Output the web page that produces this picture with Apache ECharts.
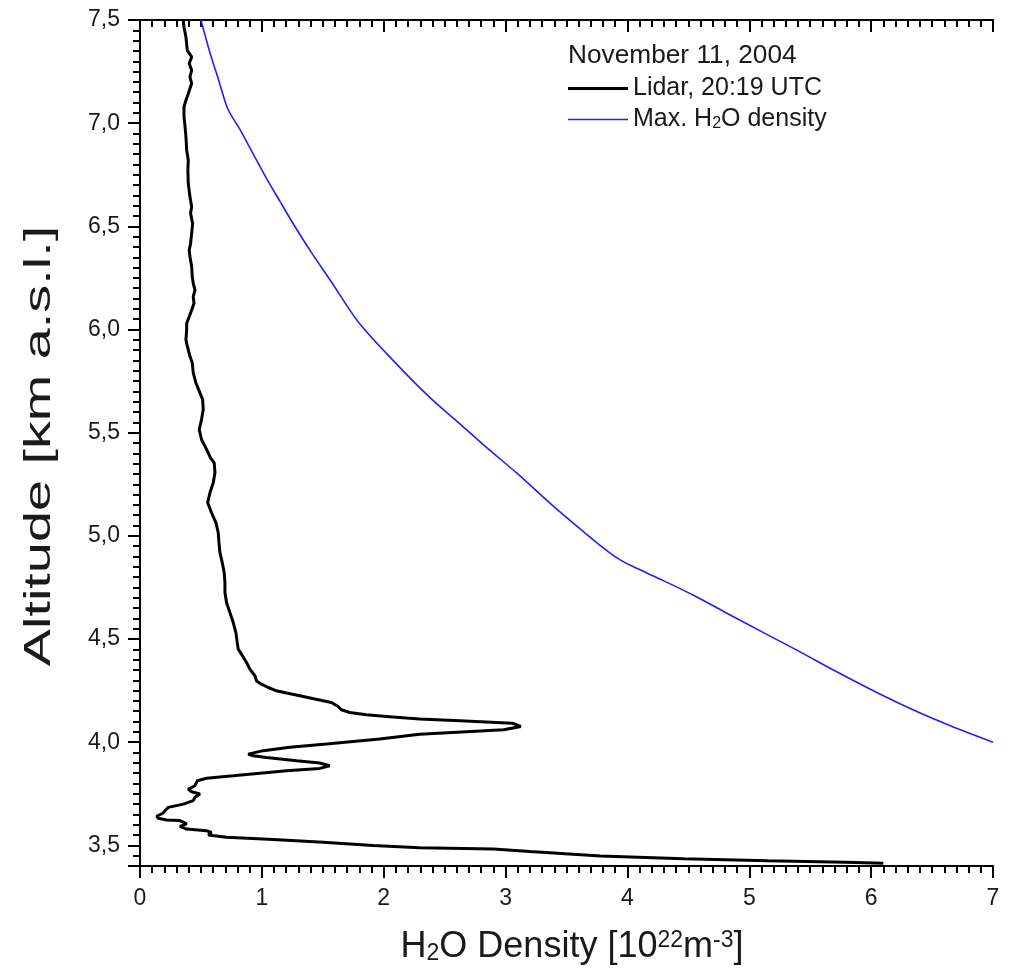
<!DOCTYPE html>
<html>
<head>
<meta charset="utf-8">
<script src="https://cdn.jsdelivr.net/npm/echarts@6/dist/echarts.min.js"></script>
<style>
html,body{margin:0;padding:0;background:#fff;}
#chart{width:1014px;height:976px;}
</style>
</head>
<body>
<div id="chart"></div>
<script>
// ---- data ----
const lidarName = 'Lidar, 20:19 UTC';
const maxName = 'Max. H2O density';
const legendTitle = 'November 11, 2004';
const xTicks = [0, 1, 2, 3, 4, 5, 6, 7];
const yTicks = [3.5, 4.0, 4.5, 5.0, 5.5, 6.0, 6.5, 7.0, 7.5];

// Lidar profile: H2O density [1e22 m^-3] vs altitude [km a.s.l.]
const lidarDensity = [
  0.355,0.361,0.377,0.388,0.424,0.404,0.424,0.410,0.424,0.410,0.396,0.377,0.361,0.361,0.370,0.377,0.383,0.396,0.393,0.396,
  0.410,0.424,0.415,0.432,0.424,0.415,0.404,0.410,0.424,0.429,0.437,0.451,0.437,0.443,0.424,0.404,0.383,
  0.383,0.377,0.388,0.410,0.429,0.437,0.459,0.492,0.514,0.519,0.505,0.486,0.505,0.546,0.579,0.609,0.615,0.601,0.574,0.555,
  0.587,0.623,0.642,0.648,0.656,0.675,0.691,0.697,0.697,0.710,0.738,0.765,0.787,0.798,0.806,
  0.842,0.874,0.902,0.943,0.956,0.997,1.052,1.120,1.202,1.311,1.434,1.571,1.626,1.653,1.721,1.858,2.022,2.186,2.295,
  2.626,3.054,3.125,2.984,2.295,1.967,1.530,1.230,1.011,0.888,0.929,1.038,1.284,1.475,1.557,1.475,1.202,0.984,0.765,0.546,
  0.470,0.451,0.396,0.423,0.492,0.451,0.437,0.355,0.232,0.205,0.191,0.137,0.150,0.219,0.328,0.383,0.328,0.383,0.546,0.587,
  0.560,0.710,1.093,1.503,1.913,2.295,2.900,3.200,3.780,4.460,5.150,5.790,6.100
];
const lidarAltitude = [
  7.500,7.466,7.418,7.353,7.321,7.289,7.256,7.224,7.192,7.168,7.143,7.111,7.079,7.030,6.982,6.934,6.869,6.821,6.772,6.708,
  6.643,6.595,6.563,6.514,6.466,6.417,6.385,6.353,6.304,6.256,6.224,6.192,6.159,6.127,6.095,6.062,6.030,
  6.000,5.951,5.919,5.870,5.838,5.790,5.741,5.693,5.661,5.612,5.564,5.515,5.467,5.419,5.378,5.354,5.306,5.257,5.209,5.161,
  5.112,5.064,5.015,4.967,4.919,4.870,4.822,4.773,4.725,4.677,4.628,4.580,4.531,4.483,4.451,
  4.418,4.386,4.354,4.322,4.297,4.281,4.265,4.249,4.238,4.225,4.209,4.192,4.173,4.157,4.144,4.133,4.125,4.117,4.112,
  4.104,4.092,4.076,4.060,4.039,4.015,3.991,3.975,3.959,3.942,3.934,3.926,3.910,3.899,3.886,3.873,3.862,3.850,3.837,3.825,
  3.813,3.789,3.773,3.760,3.749,3.733,3.717,3.700,3.684,3.668,3.657,3.641,3.631,3.623,3.620,3.604,3.592,3.579,3.571,3.563,
  3.550,3.539,3.528,3.515,3.499,3.489,3.482,3.470,3.448,3.435,3.425,3.418,3.413
];

// Maximum H2O density curve
const maxDensity = [0.50,0.57,0.65,0.72,0.82,0.93,1.04,1.15,1.26,1.41,1.56,1.80,2.11,2.38,2.63,2.86,3.10,3.38,3.66,3.85,3.95,4.05,4.27,4.55,4.80,5.12,5.41,5.69,6.05,6.37,6.65,7.00];
const maxAltitude = [7.50,7.35,7.20,7.07,6.97,6.85,6.73,6.62,6.51,6.37,6.24,6.03,5.83,5.67,5.54,5.42,5.30,5.15,5.01,4.92,4.88,4.85,4.79,4.71,4.63,4.53,4.44,4.35,4.24,4.15,4.08,4.00];

// ---- chart ----
const lidarData = lidarDensity.map((x, i) => [x, lidarAltitude[i]]);
const maxData = maxDensity.map((x, i) => [x, maxAltitude[i]]);

const FONT = '"Liberation Sans", Arial, Helvetica, sans-serif';
const TXT = '#1a1a1a';
const axisLineStyle = {show: true, lineStyle: {color: '#000', width: 2}};

function xAxisCfg(pos, inside, showLabel) {
  return {
    type: 'value', position: pos, min: 0, max: 7, interval: 1,
    axisLine: axisLineStyle,
    axisTick: {show: true, inside: inside, length: 12, lineStyle: {color: '#000', width: 2}},
    minorTick: {show: true, splitNumber: 10, length: 7, lineStyle: {color: '#000', width: 2}},
    axisLabel: {show: showLabel, fontSize: 23, fontFamily: FONT, color: TXT, margin: 21},
    splitLine: {show: false}, minorSplitLine: {show: false}
  };
}
function yAxisCfg(pos, inside, showLabel) {
  return {
    type: 'value', position: pos, min: 3.4, max: 7.5,
    splitNumber: 8, minInterval: 0.5, maxInterval: 0.5,
    axisLine: axisLineStyle,
    axisTick: {show: true, inside: inside, length: 12, lineStyle: {color: '#000', width: 2}},
    minorTick: {show: true, splitNumber: 10, length: 7, lineStyle: {color: '#000', width: 2}},
    axisLabel: {show: showLabel, fontSize: 23, fontFamily: FONT, color: TXT, margin: 20,
      showMinLabel: false,
      formatter: v => (yTicks.some(t => Math.abs(t - v) < 1e-6) ? v.toFixed(1).replace('.', ',') : '')},
    splitLine: {show: false}, minorSplitLine: {show: false}
  };
}

const chart = echarts.init(document.getElementById('chart'), null, {renderer: 'canvas'});
chart.setOption({
  animation: false,
  backgroundColor: '#fff',
  grid: {left: 140, right: 21, top: 20, bottom: 110, containLabel: false, outerBoundsMode: 'none'},
  xAxis: [xAxisCfg('bottom', false, true), xAxisCfg('top', true, false)],
  yAxis: [yAxisCfg('left', false, true), yAxisCfg('right', true, false)],
  legend: {
    orient: 'vertical', left: 568, top: 76, padding: 0,
    itemWidth: 60, itemHeight: 14, itemGap: 6, symbolKeepAspect: true,
    selectedMode: false,
    data: [
      {name: lidarName, icon: 'path://M0,0L60,0L60,3L0,3Z'},
      {name: maxName, icon: 'path://M0,0L60,0L60,1.5L0,1.5Z'}
    ],
    formatter: n => n === maxName ? 'Max. H{sub|2}O density' : n,
    textStyle: {fontSize: 25, lineHeight: 24, fontFamily: FONT, color: TXT,
      rich: {sub: {fontSize: 16, lineHeight: 24, verticalAlign: 'bottom', fontFamily: FONT, color: TXT}}}
  },
  graphic: [
    {type: 'text', left: 568, top: 44, scaleX: 1.05,
      style: {text: legendTitle, fontSize: 25, fontFamily: FONT, fill: TXT}},
    {type: 'text', x: 40, y: 446, rotation: Math.PI / 2, scaleX: 1.55,
      style: {text: 'Altitude [km a.s.l.]', fontSize: 36, fontFamily: FONT, fill: TXT, align: 'center', verticalAlign: 'middle'}},
    {type: 'text', x: 572, y: 947,
      style: {text: 'H{sub|2}O Density [10{sup|22}m{sup|-3}]', fontSize: 36, fontFamily: FONT, fill: TXT,
        align: 'center', verticalAlign: 'middle',
        rich: {sub: {fontSize: 23, verticalAlign: 'bottom', fontFamily: FONT, fill: TXT},
               sup: {fontSize: 23, verticalAlign: 'top', fontFamily: FONT, fill: TXT}}}}
  ],
  series: [
    {name: lidarName, type: 'line', xAxisIndex: 0, yAxisIndex: 0, data: lidarData,
      symbol: 'none', showSymbol: false, smooth: false, clip: true,
      lineStyle: {color: '#000', width: 3}, itemStyle: {color: '#000'}, z: 3},
    {name: maxName, type: 'line', xAxisIndex: 0, yAxisIndex: 0, data: maxData,
      symbol: 'none', showSymbol: false, smooth: 0.3, clip: true,
      lineStyle: {color: '#1f1fff', width: 1.6}, itemStyle: {color: '#1f1fff'}, z: 2}
  ]
});
</script>
</body>
</html>
